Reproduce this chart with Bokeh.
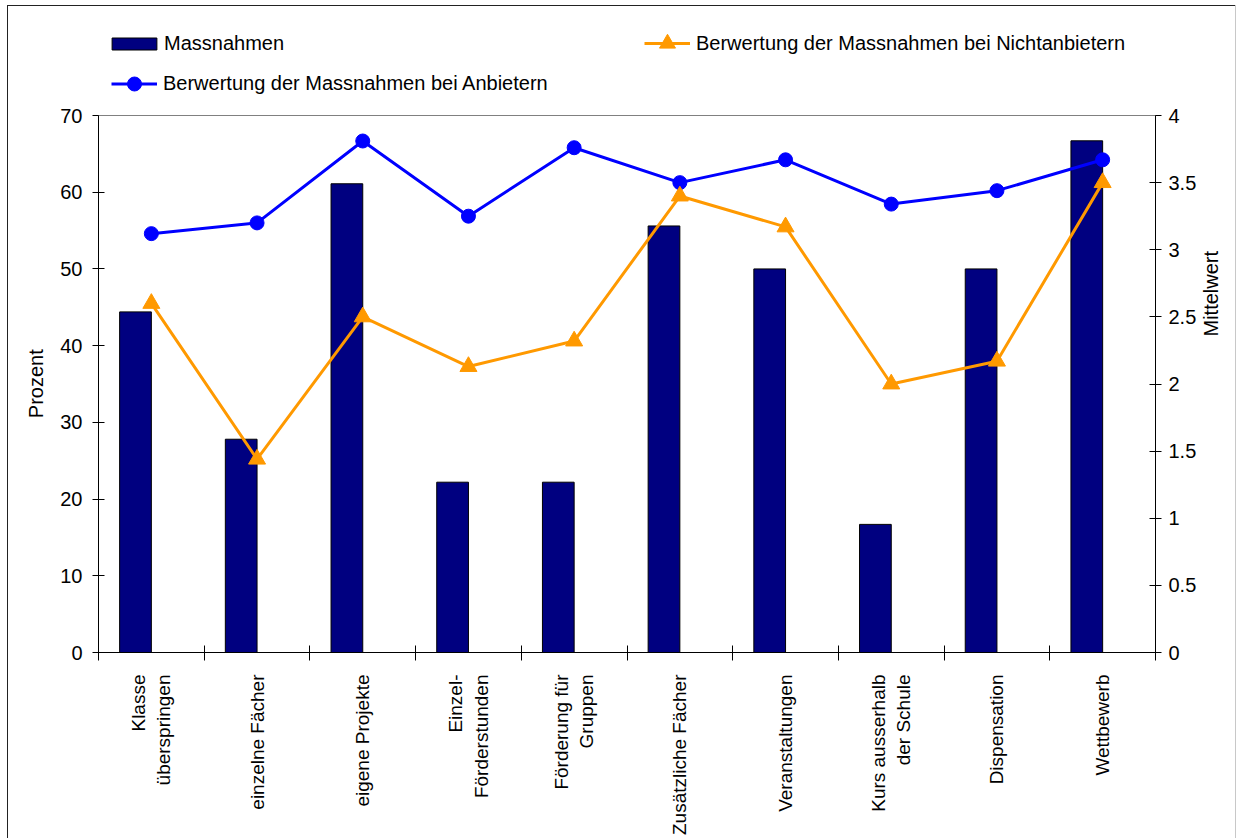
import math
from bokeh.plotting import figure
from bokeh.models import (Range1d, LinearAxis, FixedTicker, Legend, LegendItem,
                          ColumnDataSource, Span)
from bokeh.transform import dodge
from bokeh.embed import file_html
from bokeh.resources import INLINE

categories = ["Klasse\nüberspringen", "einzelne Fächer", "eigene Projekte",
              "Einzel-\nFörderstunden", "Förderung für\nGruppen", "Zusätzliche Fächer",
              "Veranstaltungen", "Kurs ausserhalb\nder Schule", "Dispensation", "Wettbewerb"]
massnahmen = [44.4, 27.8, 61.1, 22.2, 22.2, 55.6, 50.0, 16.7, 50.0, 66.7]
anbieter = [3.12, 3.20, 3.81, 3.25, 3.76, 3.50, 3.67, 3.34, 3.44, 3.67]
nichtanbieter = [2.60, 1.44, 2.50, 2.13, 2.32, 3.40, 3.17, 2.00, 2.17, 3.50]
left_ticks = [0, 10, 20, 30, 40, 50, 60, 70]
right_ticks = [0, 0.5, 1, 1.5, 2, 2.5, 3, 3.5, 4]
LEFT_MAX = 70
RIGHT_MAX = 4

n = len(categories)
pos = [i + 0.5 for i in range(n)]
src = ColumnDataSource(dict(x=pos, m=massnahmen, a=anbieter, na=nichtanbieter))

FONT = "Liberation Sans"
FS = "20px"
NB = "\u00a0" * 17  # shifts the centred axis title down to the middle of the bounded axis

# frame extends above the value axes to host the legend; axes are bounded
FRAME_TOP, AXIS_TOP, FRAME_BOTTOM = 20, 115, 652
stretch = (FRAME_BOTTOM - FRAME_TOP) / (FRAME_BOTTOM - AXIS_TOP)

p = figure(width=1236, height=838, output_backend="svg", toolbar_location=None,
           x_range=Range1d(0, n), y_range=Range1d(0, LEFT_MAX * stretch),
           min_border_left=98, min_border_right=76, min_border_top=FRAME_TOP,
           min_border_bottom=838 - FRAME_BOTTOM,
           x_axis_location=None, y_axis_location=None)
p.extra_y_ranges = {"right": Range1d(0, RIGHT_MAX * stretch)}
p.xgrid.visible = False
p.ygrid.visible = False
p.outline_line_color = None
p.background_fill_color = "white"
p.border_fill_color = None
# outer chart border (as in the cropped original)
p.styles = {"background": ("linear-gradient(#222,#222) left 7px top 5px / 1228px 1px no-repeat, "
                           "linear-gradient(#222,#222) left 7px top 5px / 1px 100% no-repeat, "
                           "linear-gradient(#c8c8c8,#c8c8c8) left 1235px top 5px / 1px 100% no-repeat, "
                           "white")}

p.add_layout(Span(location=LEFT_MAX, dimension="width", line_color="#808080", line_width=1))

bars = p.vbar(x=dodge("x", -0.15), top="m", width=0.3, source=src,
              fill_color="#000080", line_color="black", line_width=1)
la = p.line("x", "a", source=src, y_range_name="right", line_color="#0000FF", line_width=3)
sa = p.scatter("x", "a", source=src, y_range_name="right", marker="circle", size=14,
               fill_color="#0000FF", line_color="#0000FF")
ln = p.line("x", "na", source=src, y_range_name="right", line_color="#FF9900", line_width=3)
sn = p.scatter("x", "na", source=src, y_range_name="right", marker="triangle", size=17,
               fill_color="#FF9900", line_color="#FF9900")

def style_axis(ax):
    ax.axis_line_color = "black"
    ax.axis_line_width = 1
    ax.major_tick_line_color = "black"
    ax.major_label_text_font = FONT
    ax.major_label_text_font_size = FS
    ax.major_label_text_color = "black"
    ax.axis_label_text_font = FONT
    ax.axis_label_text_font_size = FS
    ax.axis_label_text_font_style = "normal"
    ax.axis_label_text_color = "black"
    ax.minor_tick_line_color = None

# left axis
yl = LinearAxis(ticker=FixedTicker(ticks=left_ticks), axis_label="Prozent" + NB,
                bounds=(0, LEFT_MAX))
style_axis(yl)
yl.major_tick_in = 6
yl.major_tick_out = 6
yl.major_label_standoff = 10
yl.axis_label_standoff = 10
p.add_layout(yl, "left")

# right axis
yr = LinearAxis(y_range_name="right", ticker=FixedTicker(ticks=right_ticks),
                axis_label="Mittelwert", bounds=(0, RIGHT_MAX))
style_axis(yr)
yr.major_tick_in = 6
yr.major_tick_out = 6
yr.major_label_standoff = 7
yr.axis_label_standoff = 12
yr.axis_label_orientation = math.pi / 2
p.add_layout(yr, "right")

# bottom axis: labels at category centres, ticks at boundaries (minor)
xb = LinearAxis(ticker=FixedTicker(ticks=pos, minor_ticks=list(range(n + 1))))
style_axis(xb)
xb.major_label_overrides = {v: c for v, c in zip(pos, categories)}
xb.major_label_orientation = math.pi / 2
xb.major_label_text_font_size = "19px"
xb.major_tick_line_color = None
xb.major_tick_in = 0
xb.major_tick_out = 0
xb.minor_tick_line_color = "black"
xb.minor_tick_in = 7
xb.minor_tick_out = 8
xb.major_label_standoff = 14
p.add_layout(xb, "below")

def mk_legend(item, loc, gw, gh, standoff):
    return Legend(items=[item], location=loc, orientation="vertical",
                  label_text_font=FONT, label_text_font_size=FS, label_text_color="black",
                  glyph_width=gw, glyph_height=gh, label_height=12, label_standoff=standoff,
                  spacing=0, padding=0, margin=0,
                  border_line_color=None, background_fill_alpha=0)

p.add_layout(mk_legend(LegendItem(label="Massnahmen", renderers=[bars]),
                       (8, 597), 56, 15, 2), "center")
p.add_layout(mk_legend(LegendItem(label="Berwertung der Massnahmen bei Anbietern", renderers=[la, sa]),
                       (13, 551), 46, 35, 6), "center")
p.add_layout(mk_legend(LegendItem(label="Berwertung der Massnahmen bei Nichtanbietern", renderers=[ln, sn]),
                       (546, 589), 46, 40, 6), "center")

open("out.html", "w").write(file_html(p, INLINE))
